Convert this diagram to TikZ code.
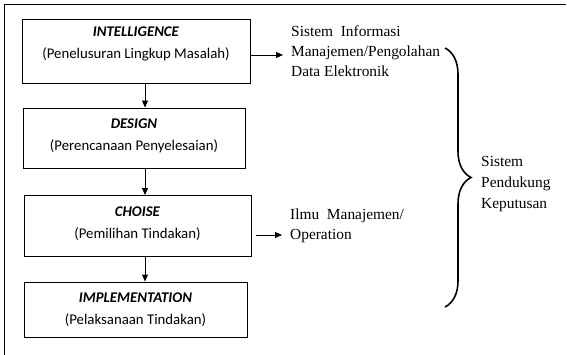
\documentclass[tikz,border=0pt]{standalone}
\usepackage{fontspec}
\setmainfont{Liberation Serif}
\setsansfont{Carlito}
\usetikzlibrary{arrows.meta,decorations.pathreplacing}

\begin{document}
\begin{tikzpicture}[x=1pt,y=-1pt,
        stage/.style={draw,line width=0.9pt,align=center,inner sep=0pt,
            font=\sffamily\fontsize{14.8}{22}\selectfont},
        stagename/.style={font=\bfseries\itshape},
        note/.style={align=left,inner sep=0pt,anchor=west,
            font=\rmfamily\fontsize{15.4}{20}\selectfont},
        arr/.style={line width=0.9pt,-{Triangle[length=7pt,width=6pt]}}]
        \useasboundingbox (0,0) rectangle (567,355);
        \draw[line width=1pt] (4,355) -- (4,5) -- (566,5);

        \node[stage,minimum width=228pt,minimum height=64pt,text depth=17pt] (int) at (136,51)
            {\textbf{\textit{INTELLIGENCE}}\\(Penelusuran Lingkup Masalah)};
        \node[stage,minimum width=222pt,minimum height=60pt,text depth=6pt] (des) at (134,138)
            {\textbf{\textit{DESIGN}}\\(Perencanaan Penyelesaian)};
        \node[stage,minimum width=227pt,minimum height=61pt,text depth=6pt] (cho) at (137.5,226)
            {\textbf{\textit{CHOISE}}\\(Pemilihan Tindakan)};
        \node[stage,minimum width=223pt,minimum height=55pt] (imp) at (135.5,309.5)
            {\textbf{\textit{IMPLEMENTATION}}\\(Pelaksanaan Tindakan)};

        \node[note] (sim) at (291,51) {Sistem\ \ Informasi\\Manajemen/Pengolahan\\Data Elektronik};
        \node[note] (ilmu) at (290,226) {Ilmu\ \ Manajemen/\\Operation};
        \node[note,font=\rmfamily\fontsize{15.4}{21}\selectfont] (spk) at (481,184)
            {Sistem\\Pendukung\\Keputusan};

        \coordinate (col) at (145,0);
        \draw[arr] (int.south -| col) -- (des.north -| col);
        \draw[arr] (des.south -| col) -- (cho.north -| col);
        \draw[arr] (cho.south -| col) -- (imp.north -| col);

        \draw[arr,shorten >=8pt] ([yshift=-4pt]int.east) -- ([yshift=-4pt]sim.west);
        \draw[arr,shorten <=5pt,shorten >=8pt] ([yshift=-9pt]cho.east) -- ([yshift=-9pt]ilmu.west);

        \coordinate (brtop) at (445,48);
        \coordinate (brbot) at (445,307);
        \draw[line width=1.6pt,decorate,decoration={brace,amplitude=26pt}] (brtop) -- (brbot);
\end{tikzpicture}
\end{document}
